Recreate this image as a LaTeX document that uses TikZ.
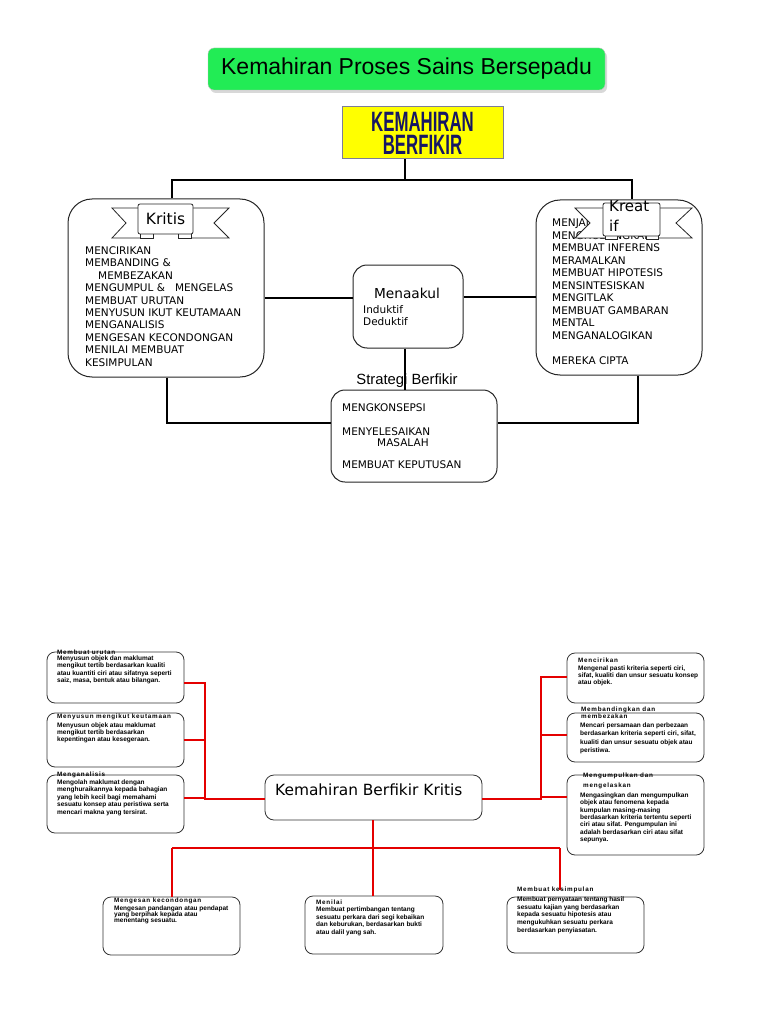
\documentclass[tikz,border=0pt]{standalone}
\usepackage{fontspec}
\usepackage{graphicx}
\setmainfont{DejaVu Sans}
\newfontfamily\arialf{Liberation Sans}
\newfontfamily\titlef{Liberation Sans}[LetterSpace=12]
\usetikzlibrary{shadows}
\definecolor{grn}{RGB}{34,236,85}
\definecolor{ylw}{RGB}{255,255,0}
\definecolor{ybord}{RGB}{125,125,150}
\definecolor{navy}{RGB}{22,22,100}
\definecolor{rd}{RGB}{228,0,0}
\begin{document}
\begin{tikzpicture}[x=1pt,y=-1pt,
 bigbox/.style={draw=black!85, line width=1pt, rounded corners=24pt, fill=white, inner sep=0pt},
 midbox/.style={draw=black!85, line width=1pt, rounded corners=14pt, fill=white, inner sep=0pt},
 sbox/.style={draw=black!80, line width=0.8pt, rounded corners=8pt, fill=white, inner sep=0pt},
 ribbon/.style={draw=black!85, line width=0.8pt, fill=white},
 conn/.style={line width=1.8pt, black},
 rconn/.style={line width=1.6pt, rd},
 caps/.style={inner sep=0pt, anchor=north west, align=left, font=\fontsize{10.5}{12.4}\selectfont},
 stitle/.style={inner sep=0pt, anchor=west, font=\titlef\bfseries\fontsize{6.3}{7}\selectfont},
 sttwo/.style={inner sep=0pt, anchor=north west, align=left, font=\titlef\bfseries\fontsize{6.3}{#1}\selectfont},
 sbody/.style={inner sep=0pt, anchor=north west, align=left, font=\arialf\bfseries\fontsize{6.5}{#1}\selectfont},
 sbody/.default=7.4,
]
\fill[white] (0,0) rectangle (768,1024);
\useasboundingbox (0,0) rectangle (768,1024);

% ---------- top part ----------
\node[draw=gray!50, fill=grn, rounded corners=6pt, minimum width=397, minimum height=42,
      drop shadow={shadow xshift=2pt,shadow yshift=-3pt,fill=black!30},
      font=\arialf\fontsize{23}{26}\selectfont] (title) at (406.5,69) {Kemahiran Proses Sains Bersepadu};

\node[draw=ybord, line width=1pt, fill=ylw, minimum width=161, minimum height=52, inner sep=0pt,
      align=center, text=navy, font=\arialf\bfseries\fontsize{28}{23}\selectfont]
      (kb) at (422.5,133) {\scalebox{0.6}[1]{KEMAHIRAN}\\\scalebox{0.6}[1]{BERFIKIR}};

\node[bigbox, minimum width=196, minimum height=178] (kritis) at (166,288) {};
\node[bigbox, minimum width=166, minimum height=175] (kreatif) at (619,287.5) {};
\node[midbox, minimum width=110, minimum height=83] (menaakul) at (408,306.5) {};
\node[midbox, minimum width=166, minimum height=92] (strategi) at (414,436) {};

\coordinate (jl) at (172,180);
\coordinate (jr) at (632,180);
\coordinate (vx) at (405,180);
\coordinate (hl) at (0,298);
\coordinate (hr) at (0,297);
\coordinate (bl) at (167,423);
\coordinate (br) at (638,423);

\draw[conn] (kb.south -| vx) -- (vx);
\draw[conn] (kritis.north -| jl) -- (jl) -- (jr) -- (kreatif.north -| jr);
\draw[conn] (kritis.east |- hl) -- (menaakul.west |- hl);
\draw[conn] (menaakul.east |- hr) -- (kreatif.west |- hr);
\draw[conn] (kritis.south -| bl) -- (bl) -- (strategi.west |- bl);
\draw[conn] (kreatif.south -| br) -- (br) -- (strategi.east |- br);

% left box text
\node[caps] (kritistxt) at (85,246.5) {MENCIRIKAN\\MEMBANDING \&\\\hspace*{13pt}MEMBEZAKAN\\MENGUMPUL \&\hspace{10pt}MENGELAS\\MEMBUAT URUTAN\\MENYUSUN IKUT KEUTAMAAN\\MENGANALISIS\\MENGESAN KECONDONGAN\\MENILAI MEMBUAT\\KESIMPULAN};

% right box text
\node[caps, font=\fontsize{10.5}{12.5}\selectfont] (kreatiftxt) at (552,219) {MENJANA IDEA\\MENGHUBUNGKAIT\\MEMBUAT INFERENS\\MERAMALKAN\\MEMBUAT HIPOTESIS\\MENSINTESISKAN\\MENGITLAK\\MEMBUAT GAMBARAN\\MENTAL\\MENGANALOGIKAN\\[12.5pt]MEREKA CIPTA};

% Kritis ribbon
\draw[ribbon] (112,208) -- (141,208) -- (141,238) -- (112,238) -- (126,223) -- cycle;
\draw[ribbon] (229,208) -- (190,208) -- (190,238) -- (229,238) -- (214,223) -- cycle;
\draw[ribbon] (140,232) rectangle (153,238);
\draw[ribbon] (178,232) rectangle (191,238);
\draw[ribbon, rounded corners=2pt] (138,204) rectangle (193,234);
\node[inner sep=0pt, font=\fontsize{15.5}{18}\selectfont] (kritislbl) at (165.5,219) {Kritis};

% Kreatif ribbon
\draw[ribbon] (575,208) -- (606,208) -- (606,238) -- (575,238) -- (590,223) -- cycle;
\draw[ribbon] (692,208) -- (657,208) -- (657,238) -- (692,238) -- (676,223) -- cycle;
\draw[ribbon] (605,234) rectangle (617,239);
\draw[ribbon] (646,234) rectangle (658,239);
\draw[ribbon, rounded corners=2pt] (603,203) rectangle (660,236);
\node[inner sep=0pt, anchor=north west, align=left, font=\fontsize{15}{20}\selectfont] (kreatlbl) at (609,200) {Kreat\\if};

% Menaakul
\node[inner sep=0pt, font=\fontsize{13.7}{16}\selectfont] (mlbl) at (407,293) {Menaakul};
\node[caps, font=\fontsize{10.5}{12}\selectfont] (mtxt) at (363,305) {Induktif\\Deduktif};

% Strategi
\node[inner sep=0pt, font=\arialf\fontsize{14.8}{17}\selectfont] (slbl) at (407,381) {Strategi Berfikir};
\draw[conn] (menaakul.south -| vx) -- (strategi.north -| vx);
\node[caps, font=\fontsize{10.5}{11}\selectfont] (stxt) at (342,404) {MENGKONSEPSI\\[13pt]MENYELESAIKAN\\\hspace*{35pt}MASALAH\\[11pt]MEMBUAT KEPUTUSAN};

% ---------- bottom part ----------
\node[sbox, rounded corners=9pt, minimum width=217, minimum height=45] (kbk) at (373.5,797.5) {};
\node[inner sep=0pt, anchor=west, font=\fontsize{15.4}{18}\selectfont] (kbkt) at (275,790) {Kemahiran Berfikir Kritis};

\node[sbox, minimum width=137, minimum height=51] (L1) at (115.5,677.5) {};
\node[sbox, minimum width=137, minimum height=54] (L2) at (115.5,740) {};
\node[sbox, minimum width=137, minimum height=58] (L3) at (115.5,804) {};
\node[sbox, minimum width=137, minimum height=50] (R1) at (635.5,678) {};
\node[sbox, minimum width=137, minimum height=49] (R2) at (635.5,737.5) {};
\node[sbox, minimum width=137, minimum height=80] (R3) at (635.5,815) {};
\node[sbox, minimum width=137, minimum height=58] (B1) at (171.5,926) {};
\node[sbox, minimum width=138, minimum height=58] (B2) at (374,925) {};
\node[sbox, minimum width=137, minimum height=56] (B3) at (575.5,925) {};

\coordinate (ly1) at (205,683);
\coordinate (ly2) at (205,740);
\coordinate (ly3) at (205,798);
\coordinate (lt) at (205,799);
\coordinate (ry1) at (541,677);
\coordinate (ry2) at (541,735);
\coordinate (ry3) at (541,797);
\coordinate (rt) at (541,799);
\coordinate (bc) at (373,848);
\coordinate (bL) at (172,848);
\coordinate (bR) at (560,848);
\coordinate (b3e) at (560,890);

\draw[rconn] (L1.east |- ly1) -- (ly1) -- (lt) -- (kbk.west |- lt);
\draw[rconn] (L2.east |- ly2) -- (ly2);
\draw[rconn] (L3.east |- ly3) -- (ly3);
\draw[rconn] (R1.west |- ry1) -- (ry1) -- (rt) -- (kbk.east |- rt);
\draw[rconn] (R2.west |- ry2) -- (ry2);
\draw[rconn] (R3.west |- ry3) -- (ry3);
\draw[rconn] (kbk.south -| bc) -- (bc);
\draw[rconn] (bL) -- (bR);
\draw[rconn] (bL) -- (B1.north -| bL);
\draw[rconn] (bc) -- (B2.north -| bc);
\draw[rconn] (bR) -- (b3e);

% small box texts
\node[stitle] (L1t) at (57,652) {Membuat urutan};
\node[sbody=7.5] (L1b) at (57,655.5) {Menyusun objek dan maklumat\\mengikut tertib berdasarkan kualiti\\atau kuantiti ciri atau sifatnya seperti\\saiz, masa, bentuk atau bilangan.};

\node[stitle] (L2t) at (57,717) {Menyusun mengikut keutamaan};
\node[sbody=7.2] (L2b) at (57,722.5) {Menyusun objek atau maklumat\\mengikut tertib berdasarkan\\kepentingan atau kesegeraan.};

\node[stitle] (L3t) at (57,775) {Menganalisis};
\node[sbody=7.5] (L3b) at (57,779.5) {Mengolah maklumat dengan\\menghuraikannya kepada bahagian\\yang lebih kecil bagi memahami\\sesuatu konsep atau peristiwa serta\\mencari makna yang tersirat.};

\node[stitle] (R1t) at (578,660) {Mencirikan};
\node[sbody=7.2] (R1b) at (578,665.5) {Mengenal pasti kriteria seperti ciri,\\sifat, kualiti dan unsur sesuatu konsep\\atau objek.};

\node[sttwo=7] (R2t) at (581,706.5) {Membandingkan dan\\membezakan};
\node[sbody=8.3] (R2b) at (580,722.5) {Mencari persamaan dan perbezaan\\berdasarkan kriteria seperti ciri, sifat,\\kualiti dan unsur sesuatu objek atau\\peristiwa.};

\node[sttwo=10.5] (R3t) at (583,772.5) {Mengumpulkan dan\\mengelaskan};
\node[sbody=7.33] (R3b) at (580,792.5) {Mengasingkan dan mengumpulkan\\objek atau fenomena kepada\\kumpulan masing-masing\\berdasarkan kriteria tertentu seperti\\ciri atau sifat. Pengumpulan ini\\adalah berdasarkan ciri atau sifat\\sepunya.};

\node[stitle] (B1t) at (114,901) {Mengesan kecondongan};
\node[sbody=6.2] (B1b) at (114,905.5) {Mengesan pandangan atau pendapat\\yang berpihak kepada atau\\menentang sesuatu.};

\node[stitle] (B2t) at (316,902) {Menilai};
\node[sbody=7.6] (B2b) at (316,906.5) {Membuat pertimbangan tentang\\sesuatu perkara dari segi kebaikan\\dan keburukan, berdasarkan bukti\\atau dalil yang sah.};

\node[stitle] (B3t) at (517,890) {Membuat kesimpulan};
\node[sbody=7.75] (B3b) at (517,896.5) {Membuat pernyataan tentang hasil\\sesuatu kajian yang berdasarkan\\kepada sesuatu hipotesis atau\\mengukuhkan sesuatu perkara\\berdasarkan penyiasatan.};
\end{tikzpicture}
\end{document}
